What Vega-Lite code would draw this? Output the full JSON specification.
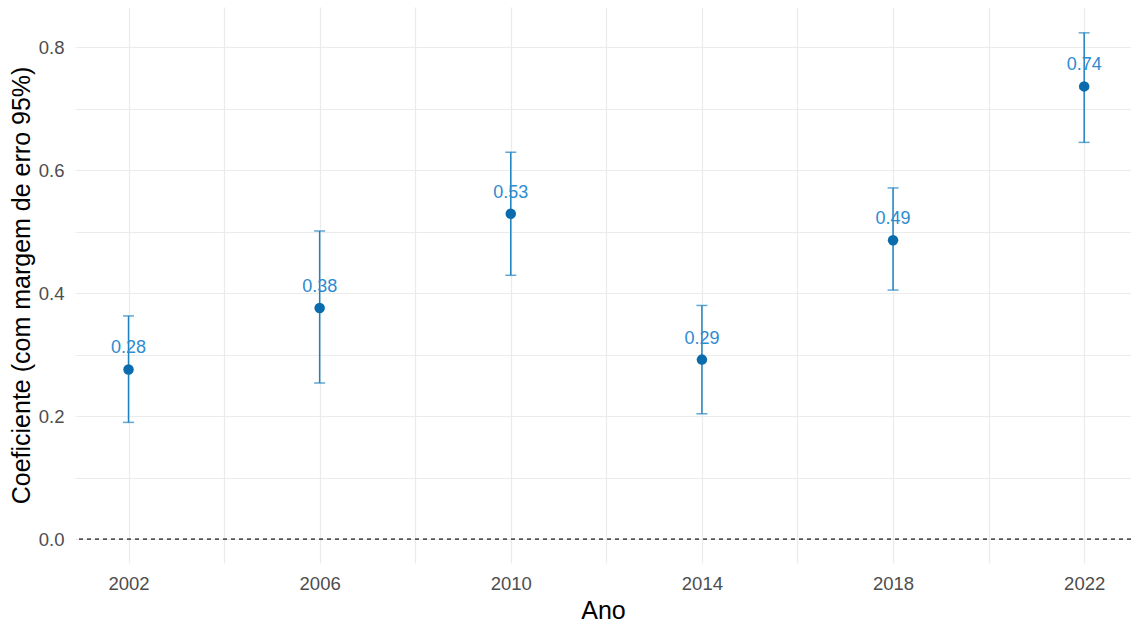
{
  "$schema": "https://vega.github.io/schema/vega-lite/v6.json",
  "autosize": "none",
  "padding": {"left": 75, "top": 7, "right": 0, "bottom": 61},
  "width": 1056,
  "height": 556,
  "background": "white",
  "config": {
    "view": {"stroke": null},
    "font": "Liberation Sans",
    "axis": {
      "domain": false,
      "ticks": false,
      "gridColor": "#EBEBEB",
      "gridWidth": 1.2,
      "labelColor": "#4D4D4D",
      "labelFontSize": 18.5,
      "labelFont": "Liberation Sans",
      "titleFont": "Liberation Sans",
      "titleFontSize": 25,
      "titleFontWeight": "normal",
      "titleColor": "#000000"
    }
  },
  "data": {
    "values": [
      {"ano": 2002, "coef": 0.276, "lo": 0.190, "hi": 0.363, "rotulo": "0.28"},
      {"ano": 2006, "coef": 0.376, "lo": 0.254, "hi": 0.501, "rotulo": "0.38"},
      {"ano": 2010, "coef": 0.529, "lo": 0.429, "hi": 0.629, "rotulo": "0.53"},
      {"ano": 2014, "coef": 0.292, "lo": 0.204, "hi": 0.380, "rotulo": "0.29"},
      {"ano": 2018, "coef": 0.486, "lo": 0.405, "hi": 0.571, "rotulo": "0.49"},
      {"ano": 2022, "coef": 0.736, "lo": 0.645, "hi": 0.823, "rotulo": "0.74"}
    ]
  },
  "encoding": {
    "x": {
      "field": "ano",
      "type": "quantitative",
      "scale": {"domain": [2000.88, 2022.98], "nice": false, "zero": false},
      "axis": {
        "title": "Ano",
        "values": [2002, 2004, 2006, 2008, 2010, 2012, 2014, 2016, 2018, 2020, 2022],
        "labelExpr": "(datum.value - 2002) % 4 == 0 ? format(datum.value, 'd') : ''",
        "labelPadding": 11,
        "titlePadding": 6,
        "labelFlush": false,
        "labelOverlap": false
      }
    },
    "y": {
      "field": "coef",
      "type": "quantitative",
      "scale": {"domain": [-0.0385, 0.865], "nice": false, "zero": false},
      "axis": {
        "title": "Coeficiente (com margem de erro 95%)",
        "values": [0, 0.1, 0.2, 0.3, 0.4, 0.5, 0.6, 0.7, 0.8],
        "labelExpr": "round(datum.value * 10) % 2 == 0 ? format(datum.value, '.1f') : ''",
        "labelPadding": 11,
        "titlePadding": 4,
        "labelFlush": false,
        "labelOverlap": false
      }
    }
  },
  "layer": [
    {
      "mark": {"type": "rule", "color": "#555555", "strokeDash": [4, 4], "strokeWidth": 1},
      "encoding": {"y": {"datum": 0}, "x": null}
    },
    {
      "mark": {"type": "rule", "color": "#1F82C0", "strokeWidth": 1.5},
      "encoding": {"y": {"field": "lo", "type": "quantitative"}, "y2": {"field": "hi"}}
    },
    {
      "mark": {"type": "tick", "orient": "horizontal", "color": "#1F82C0", "size": 11, "thickness": 1.5},
      "encoding": {"y": {"field": "lo", "type": "quantitative"}}
    },
    {
      "mark": {"type": "tick", "orient": "horizontal", "color": "#1F82C0", "size": 11, "thickness": 1.5},
      "encoding": {"y": {"field": "hi", "type": "quantitative"}}
    },
    {
      "mark": {"type": "point", "filled": true, "shape": "circle", "size": 110, "color": "#0A6CAC", "opacity": 1}
    },
    {
      "mark": {"type": "text", "color": "#2E8BD0", "fontSize": 18, "dy": -21, "baseline": "middle", "align": "center", "font": "Liberation Sans"},
      "encoding": {"text": {"field": "rotulo"}}
    }
  ]
}
